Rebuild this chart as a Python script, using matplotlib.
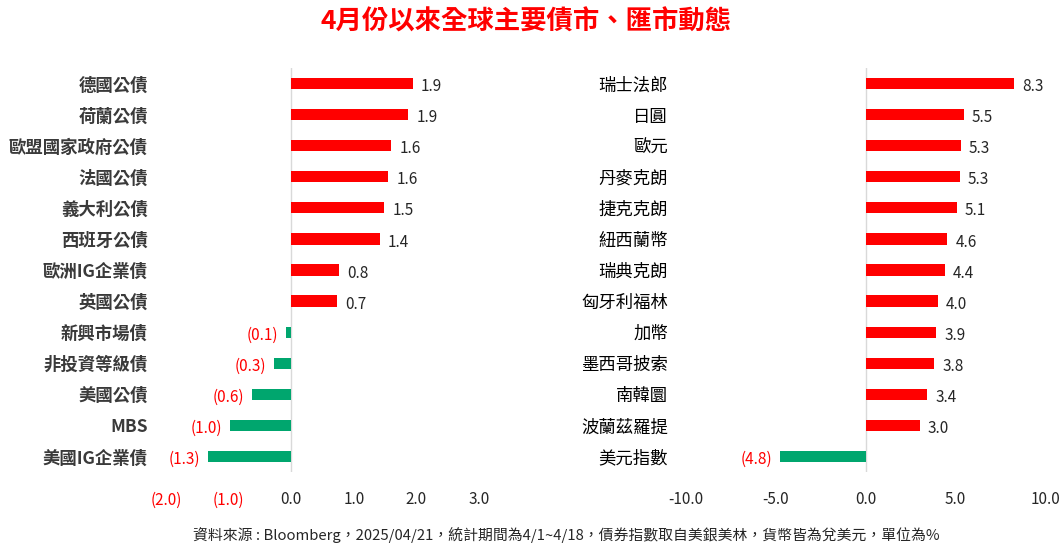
import matplotlib
matplotlib.use("Agg")
import matplotlib.pyplot as plt

plt.rcParams['font.family'] = ['Noto Sans CJK TC', 'DejaVu Sans']

title = "4月份以來全球主要債市、匯市動態"
footnote = "資料來源 : Bloomberg，2025/04/21，統計期間為4/1~4/18，債券指數取自美銀美林，貨幣皆為兌美元，單位為%"

bond_names = ["德國公債", "荷蘭公債", "歐盟國家政府公債", "法國公債", "義大利公債", "西班牙公債",
              "歐洲IG企業債", "英國公債", "新興市場債", "非投資等級債", "美國公債", "MBS", "美國IG企業債"]
bond_values = [1.94, 1.87, 1.60, 1.55, 1.49, 1.42, 0.77, 0.73, -0.08, -0.27, -0.62, -0.97, -1.33]
bond_ticks = [-2.0, -1.0, 0.0, 1.0, 2.0, 3.0]
bond_ticklabels = ["(2.0)", "(1.0)", "0.0", "1.0", "2.0", "3.0"]

fx_names = ["瑞士法郎", "日圓", "歐元", "丹麥克朗", "捷克克朗", "紐西蘭幣", "瑞典克朗",
            "匈牙利福林", "加幣", "墨西哥披索", "南韓圜", "波蘭茲羅提", "美元指數"]
fx_values = [8.28, 5.49, 5.32, 5.26, 5.10, 4.56, 4.43, 4.04, 3.93, 3.82, 3.44, 3.03, -4.76]
fx_ticks = [-10.0, -5.0, 0.0, 5.0, 10.0]
fx_ticklabels = ["-10.0", "-5.0", "0.0", "5.0", "10.0"]

RED = "#FF0000"
GREEN = "#00A66E"
TXT = "#262626"

fig = plt.figure(figsize=(10.64, 5.46), dpi=100)
fig.patch.set_facecolor("white")

ax1 = fig.add_axes([166/1064, 1-472/546, 313/1064, 404/546])
ax2 = fig.add_axes([686/1064, 1-472/546, 359/1064, 404/546])


def draw(ax, names, values, ticks, ticklabels, xlim, neg_tick_red, px_per_unit, label_weight, label_color):
    ypos = list(range(len(names)))
    colors = [RED if v >= 0 else GREEN for v in values]
    ax.barh(ypos, values, height=0.36, color=colors, zorder=2)
    ax.set_xlim(*xlim)
    ax.set_ylim(len(names) - 0.5, -0.5)
    ax.set_yticks(ypos)
    ax.set_yticklabels(names, fontsize=12.5, color=label_color, fontweight=label_weight)
    ax.set_xticks(ticks)
    ax.set_xticklabels(ticklabels, fontsize=11)
    for t, lab in zip(ax.get_xticklabels(), ticklabels):
        if neg_tick_red and lab.startswith("("):
            t.set_color(RED)
        else:
            t.set_color(TXT)
    ax.tick_params(axis="both", length=0)
    ax.tick_params(axis="y", pad=13)
    ax.tick_params(axis="x", pad=14)
    for s in ax.spines.values():
        s.set_visible(False)
    ax.axvline(0, color="#D9D9D9", lw=1.0, zorder=1)
    off = 8 / px_per_unit
    for y, v in zip(ypos, values):
        if v >= 0:
            ax.text(v + off, y + 0.1, f"{v:.1f}", ha="left", va="center",
                    fontsize=11, color=TXT)
        else:
            ax.text(v - off, y + 0.1, f"({abs(v):.1f})", ha="right", va="center",
                    fontsize=11, color=RED)


draw(ax1, bond_names, bond_values, bond_ticks, bond_ticklabels, (-2.0, 3.0), True, 62.7, "bold", "#3a3a3a")
draw(ax2, fx_names, fx_values, fx_ticks, fx_ticklabels, (-10.0, 10.0), False, 17.95, "normal", "#000000")

fig.text(526/1064, 1-22/546, title, ha="center", va="center", fontsize=19,
         fontweight="bold", color=RED)
fig.text(566/1064, 1-535/546, footnote, ha="center", va="center", fontsize=10.7, color=TXT)

fig.savefig("out.png", dpi=100, facecolor="white")
